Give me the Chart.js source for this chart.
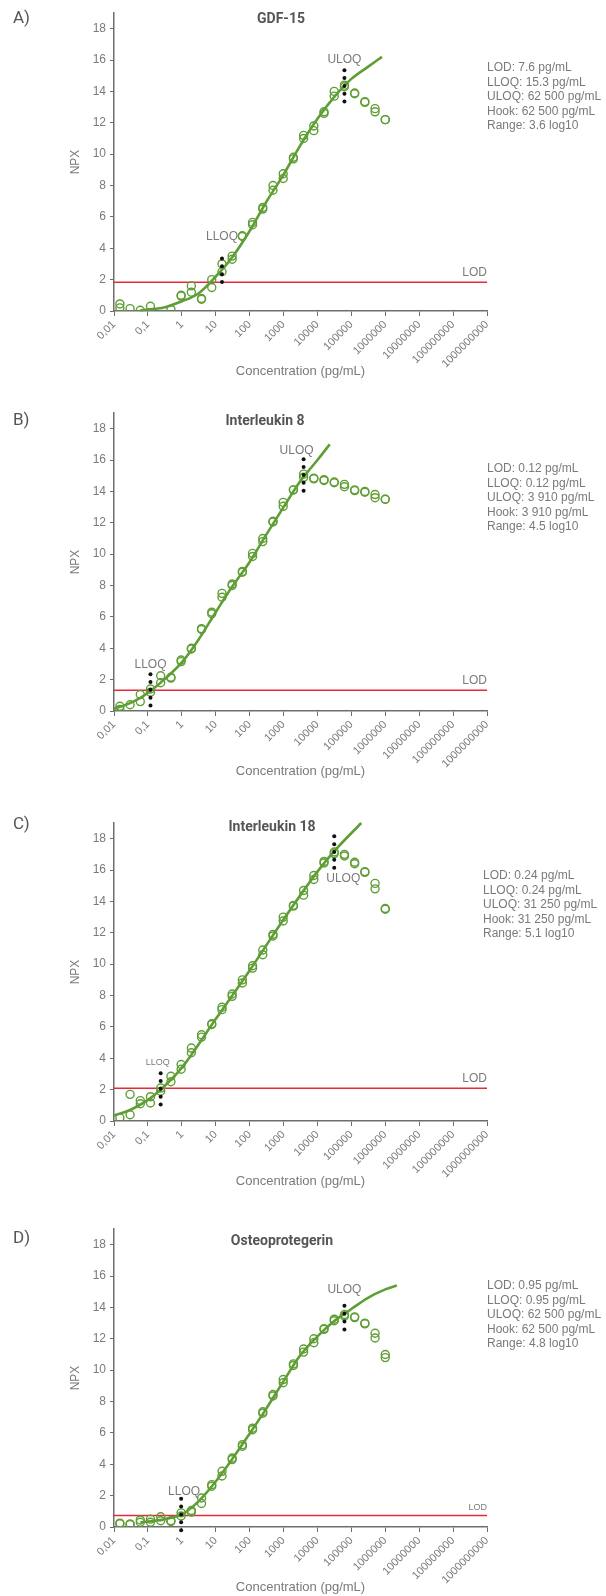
<!DOCTYPE html>
<html>
<head>
<meta charset="utf-8">
<script src="https://cdn.jsdelivr.net/npm/chart.js@4.4.1/dist/chart.umd.min.js"></script>
<style>
  body { margin: 0; background: #fff; width: 606px; height: 1596px; position: relative; overflow: hidden; }
  canvas { position: absolute; left: 0; }
</style>
</head>
<body>
<canvas id="chartA" width="606" height="380" style="top:0px"></canvas>
<canvas id="chartB" width="606" height="380" style="top:400px"></canvas>
<canvas id="chartC" width="606" height="380" style="top:810px"></canvas>
<canvas id="chartD" width="606" height="380" style="top:1216px"></canvas>
<script>
// dilution series (pg/mL), shared by all four assays
const conc = [0.0149, 0.0298, 0.0596, 0.119, 0.238, 0.477, 0.954, 1.91, 3.81, 7.63, 15.3, 30.5, 61, 122, 244, 488, 977, 1953, 3906, 7813, 15625, 31250, 62500, 125000, 250000, 500000, 1000000];
const xTickValues = [0.01, 0.1, 1, 10, 100, 1000, 10000, 100000, 1000000, 10000000, 100000000, 1000000000];
const xTickLabels = ['0,01', '0,1', '1', '10', '100', '1000', '10000', '100000', '1000000', '10000000', '100000000', '1000000000'];
const yTickValues = [0, 2, 4, 6, 8, 10, 12, 14, 16, 18];

// A) GDF-15
const gdfRep1 = [0.45, 0.15, 0.05, 0.3, null, 0.1, 1.0, 1.6, 0.75, 2.0, 3.0, 3.5, 4.8, 5.65, 6.6, 8.0, 8.75, 9.8, 11.2, 11.8, 12.7, 14.0, 14.4, 13.9, 13.35, 12.9, 12.2];
const gdfRep2 = [0.2, null, null, null, null, null, 0.95, 1.2, 0.8, 1.5, 2.5, 3.3, 4.75, 5.5, 6.5, 7.7, 8.45, 9.7, 11.0, 11.5, 12.6, 13.7, 14.3, 13.85, 13.3, 12.7, 12.2];
const gdfCurveConc = [0.06, 0.1, 0.3, 1, 3, 10, 30, 100, 300, 1000, 3000, 10000, 30000, 100000, 300000, 800000];
const gdfCurveNpx = [0.05, 0.1, 0.23, 0.62, 1.1, 2.2, 3.4, 5.1, 6.9, 8.7, 10.5, 12.25, 13.6, 14.8, 15.55, 16.2];
const gdfLod = 1.83;
const gdfLloq = 15.3;
const gdfLloqDots = [3.35, 2.85, 2.35, 1.85];
const gdfUloq = 62500;
const gdfUloqDots = [15.35, 14.85, 14.35, 13.85, 13.35];
const gdfStats = ['LOD: 7.6 pg/mL', 'LLOQ: 15.3 pg/mL', 'ULOQ: 62 500 pg/mL', 'Hook: 62 500 pg/mL', 'Range: 3.6 log10'];

// B) Interleukin 8
const il8Rep1 = [0.3, 0.4, 1.05, 1.4, 2.25, 2.15, 3.25, 4.0, 5.25, 6.3, 7.5, 8.1, 8.9, 10.05, 11.0, 12.1, 13.3, 14.1, 15.1, 14.85, 14.75, 14.6, 14.45, 14.1, 14.0, 13.8, 13.5];
const il8Rep2 = [0.1, null, 0.6, 1.2, 1.8, 2.1, 3.15, 3.95, 5.2, 6.2, 7.25, 8.0, 8.85, 9.85, 10.8, 12.05, 13.05, 14.1, 14.9, 14.8, 14.7, 14.55, 14.3, 14.05, 13.95, 13.6, 13.5];
const il8CurveConc = [0.01, 0.03, 0.1, 0.3, 1, 3, 10, 30, 100, 300, 1000, 3000, 10000, 23000];
const il8CurveNpx = [0.15, 0.5, 1.15, 2.0, 3.1, 4.5, 6.3, 7.9, 9.5, 11.2, 13.0, 14.6, 16.0, 17.0];
const il8Lod = 1.32;
const il8Lloq = 0.119;
const il8LloqDots = [2.35, 1.85, 1.35, 0.85, 0.35];
const il8Uloq = 3906;
const il8UloqDots = [16.05, 15.55, 15.05, 14.55, 14.05];
const il8Stats = ['LOD: 0.12 pg/mL', 'LLOQ: 0.12 pg/mL', 'ULOQ: 3 910 pg/mL', 'Hook: 3 910 pg/mL', 'Range: 4.5 log10'];

// C) Interleukin 18
const il18Rep1 = [0.2, 1.7, 1.3, 1.55, 2.1, 2.85, 3.6, 4.65, 5.5, 6.2, 7.25, 8.1, 9.0, 9.9, 10.9, 11.9, 13.0, 13.75, 14.7, 15.65, 16.55, 17.15, 17.0, 16.5, 15.9, 15.15, 13.55];
const il18Rep2 = [null, 0.4, 1.1, 1.15, 1.9, 2.5, 3.3, 4.35, 5.35, 6.15, 7.1, 7.95, 8.8, 9.75, 10.6, 11.8, 12.75, 13.7, 14.4, 15.4, 16.45, 17.05, 16.9, 16.4, 15.85, 14.8, 13.5];
const il18CurveConc = [0.01, 0.03, 0.1, 0.24, 1, 10, 100, 1000, 10000, 31250, 195000];
const il18CurveNpx = [0.35, 0.7, 1.35, 2.0, 3.4, 6.5, 9.6, 12.85, 15.9, 17.2, 19.0];
const il18Lod = 2.09;
const il18Lloq = 0.238;
const il18LloqDots = [3.05, 2.55, 2.05, 1.55, 1.05];
const il18Uloq = 31250;
const il18UloqDots = [18.15, 17.65, 17.15, 16.65, 16.15];
const il18Stats = ['LOD: 0.24 pg/mL', 'LLOQ: 0.24 pg/mL', 'ULOQ: 31 250 pg/mL', 'Hook: 31 250 pg/mL', 'Range: 5.1 log10'];

// D) Osteoprotegerin
const opgRep1 = [0.25, 0.2, 0.45, 0.5, 0.65, 0.4, 0.9, 1.05, 1.85, 2.7, 3.55, 4.4, 5.25, 6.3, 7.35, 8.45, 9.4, 10.4, 11.35, 12.0, 12.65, 13.25, 13.55, 13.4, 13.0, 12.35, 11.0];
const opgRep2 = [0.2, 0.15, 0.3, 0.3, 0.4, 0.35, 0.7, 0.95, 1.5, 2.6, 3.25, 4.3, 5.15, 6.2, 7.25, 8.35, 9.2, 10.3, 11.15, 11.75, 12.6, 13.15, 13.45, 13.35, 12.95, 12.05, 10.8];
const opgCurveConc = [0.06, 0.1, 0.3, 1, 3, 10, 30, 100, 300, 1000, 3000, 10000, 30000, 100000, 300000, 1000000, 2200000];
const opgCurveNpx = [0.3, 0.35, 0.5, 0.8, 1.6, 2.9, 4.3, 5.95, 7.5, 9.3, 10.9, 12.15, 13.1, 13.9, 14.6, 15.15, 15.4];
const opgLod = 0.74;
const opgLloq = 0.954;
const opgLloqDots = [1.8, 1.3, 0.8, 0.3, -0.2];
const opgUloq = 62500;
const opgUloqDots = [14.1, 13.6, 13.1, 12.6];
const opgStats = ['LOD: 0.95 pg/mL', 'LLOQ: 0.95 pg/mL', 'ULOQ: 62 500 pg/mL', 'Hook: 62 500 pg/mL', 'Range: 4.8 log10'];

const GREEN = '#5f9e35';
const GRAY = '#7a7a7a';
const AXIS = '#6e6e6e';
const NARROW = '"Liberation Sans Narrow", "Roboto", sans-serif';
const SANS = '"Liberation Sans", Arial, sans-serif';

function pts(xs, ys) {
  return xs.map((x, i) => ({ x: x, y: ys[i] })).filter(p => p.y !== null);
}

const textPlugin = {
  id: 'panelText',
  afterDraw(chart, args, o) {
    const { ctx, chartArea, scales: { x, y } } = chart;
    ctx.save();
    ctx.textBaseline = 'middle';

    ctx.fillStyle = '#555';
    ctx.textAlign = 'left';
    ctx.font = '17px ' + NARROW;
    ctx.fillText(o.letter, 13, o.letterY);

    ctx.textAlign = 'center';
    ctx.font = 'bold 14px ' + NARROW;
    ctx.fillText(o.title, o.titleX, o.titleY);

    ctx.fillStyle = GRAY;
    ctx.textAlign = 'left';
    ctx.font = '12px ' + SANS;
    o.stats.forEach((s, i) => ctx.fillText(s, o.statsX, o.statsY + i * 14.5));

    // LLOQ / ULOQ / LOD labels
    o.labels.forEach(l => {
      ctx.font = l.size + 'px ' + SANS;
      ctx.textAlign = l.align || 'center';
      const px = l.x === 'right' ? chartArea.right : x.getPixelForValue(l.x) + (l.dx || 0);
      const py = y.getPixelForValue(l.y) + (l.dy || 0);
      ctx.fillText(l.text, px, py);
    });
    ctx.restore();
  }
};

function makePanel(id, p) {
  const circle = (data) => ({
    data: data,
    showLine: false,
    pointRadius: 4,
    pointBorderWidth: 1.4,
    pointBorderColor: GREEN,
    pointBackgroundColor: 'rgba(0,0,0,0)'
  });
  new Chart(document.getElementById(id), {
    type: 'scatter',
    data: {
      datasets: [
        {
          data: pts(p.lloqDots.map(() => p.lloq), p.lloqDots).concat(pts(p.uloqDots.map(() => p.uloq), p.uloqDots)),
          pointRadius: 2,
          pointBorderWidth: 0,
          pointBackgroundColor: '#111',
          clip: false
        },
        circle(pts(conc, p.rep1)),
        circle(pts(conc, p.rep2)),
        {
          data: pts(p.curveConc, p.curveNpx),
          showLine: true,
          borderColor: GREEN,
          borderWidth: 2.6,
          pointRadius: 0,
          cubicInterpolationMode: 'monotone',
          clip: false
        },
        {
          data: [{ x: xTickValues[0], y: p.lod }, { x: xTickValues[xTickValues.length - 1], y: p.lod }],
          showLine: true,
          borderColor: '#e8283a',
          borderWidth: 1.5,
          pointRadius: 0
        }
      ]
    },
    options: {
      responsive: false,
      animation: false,
      layout: { padding: { left: 0, top: 13, right: 119, bottom: 0 } },
      plugins: {
        legend: { display: false },
        tooltip: { enabled: false },
        panelText: p.text
      },
      scales: {
        x: {
          type: 'logarithmic',
          min: xTickValues[0],
          max: xTickValues[xTickValues.length - 1],
          afterBuildTicks: s => { s.ticks = xTickValues.map(v => ({ value: v })); },
          afterFit: s => { s.height = 69; },
          ticks: {
            autoSkip: false,
            minRotation: 45,
            maxRotation: 45,
            color: GRAY,
            font: { family: SANS, size: 11 },
            padding: 2,
            callback: (v, i) => xTickLabels[i]
          },
          grid: { drawOnChartArea: false, drawTicks: true, tickLength: 5, tickColor: AXIS },
          border: { color: AXIS, width: 1.5 },
          title: { display: true, text: 'Concentration (pg/mL)', color: GRAY, font: { family: SANS, size: 13 }, padding: { top: 0, bottom: 1 } }
        },
        y: {
          min: 0,
          max: 19,
          afterBuildTicks: s => { s.ticks = yTickValues.map(v => ({ value: v })); },
          afterFit: s => { s.width = 114; },
          ticks: { color: GRAY, font: { family: SANS, size: 12 }, padding: 4 },
          grid: { drawOnChartArea: false, drawTicks: true, tickLength: 4, tickColor: AXIS },
          border: { color: AXIS, width: 1.5 },
          title: { display: true, text: 'NPX', color: GRAY, font: { family: SANS, size: 12 }, padding: { top: 68, bottom: 0 } }
        }
      }
    },
    plugins: [textPlugin]
  });
}

makePanel('chartA', {
  rep1: gdfRep1, rep2: gdfRep2, curveConc: gdfCurveConc, curveNpx: gdfCurveNpx, lod: gdfLod,
  lloq: gdfLloq, lloqDots: gdfLloqDots, uloq: gdfUloq, uloqDots: gdfUloqDots,
  text: {
    letter: 'A)', letterY: 19, title: 'GDF-15', titleX: 281, titleY: 19, stats: gdfStats, statsX: 487, statsY: 68,
    labels: [
      { text: 'LLOQ', x: gdfLloq, y: 4.75, size: 12 },
      { text: 'ULOQ', x: gdfUloq, y: 16.0, size: 12 },
      { text: 'LOD', x: 'right', align: 'right', y: gdfLod, dy: -10, size: 12 }
    ]
  }
});

makePanel('chartB', {
  rep1: il8Rep1, rep2: il8Rep2, curveConc: il8CurveConc, curveNpx: il8CurveNpx, lod: il8Lod,
  lloq: il8Lloq, lloqDots: il8LloqDots, uloq: il8Uloq, uloqDots: il8UloqDots,
  text: {
    letter: 'B)', letterY: 21, title: 'Interleukin 8', titleX: 265, titleY: 21, stats: il8Stats, statsX: 487, statsY: 69,
    labels: [
      { text: 'LLOQ', x: il8Lloq, y: 2.95, size: 12 },
      { text: 'ULOQ', x: il8Uloq, dx: -7, y: 16.6, size: 12 },
      { text: 'LOD', x: 'right', align: 'right', y: il8Lod, dy: -10, size: 12 }
    ]
  }
});

makePanel('chartC', {
  rep1: il18Rep1, rep2: il18Rep2, curveConc: il18CurveConc, curveNpx: il18CurveNpx, lod: il18Lod,
  lloq: il18Lloq, lloqDots: il18LloqDots, uloq: il18Uloq, uloqDots: il18UloqDots,
  text: {
    letter: 'C)', letterY: 15, title: 'Interleukin 18', titleX: 272, titleY: 17, stats: il18Stats, statsX: 483, statsY: 66,
    labels: [
      { text: 'LLOQ', x: il18Lloq, dx: -3, y: 3.7, size: 9 },
      { text: 'ULOQ', x: il18Uloq, dx: 9, y: 15.42, size: 12 },
      { text: 'LOD', x: 'right', align: 'right', y: il18Lod, dy: -10, size: 12 }
    ]
  }
});

makePanel('chartD', {
  rep1: opgRep1, rep2: opgRep2, curveConc: opgCurveConc, curveNpx: opgCurveNpx, lod: opgLod,
  lloq: opgLloq, lloqDots: opgLloqDots, uloq: opgUloq, uloqDots: opgUloqDots,
  text: {
    letter: 'D)', letterY: 23, title: 'Osteoprotegerin', titleX: 282, titleY: 25, stats: opgStats, statsX: 487, statsY: 70,
    labels: [
      { text: 'LLOQ', x: opgLloq, dx: 3, y: 2.27, size: 12 },
      { text: 'ULOQ', x: opgUloq, y: 15.1, size: 12 },
      { text: 'LOD', x: 'right', align: 'right', y: opgLod, dy: -8, size: 9 }
    ]
  }
});
</script>
</body>
</html>
